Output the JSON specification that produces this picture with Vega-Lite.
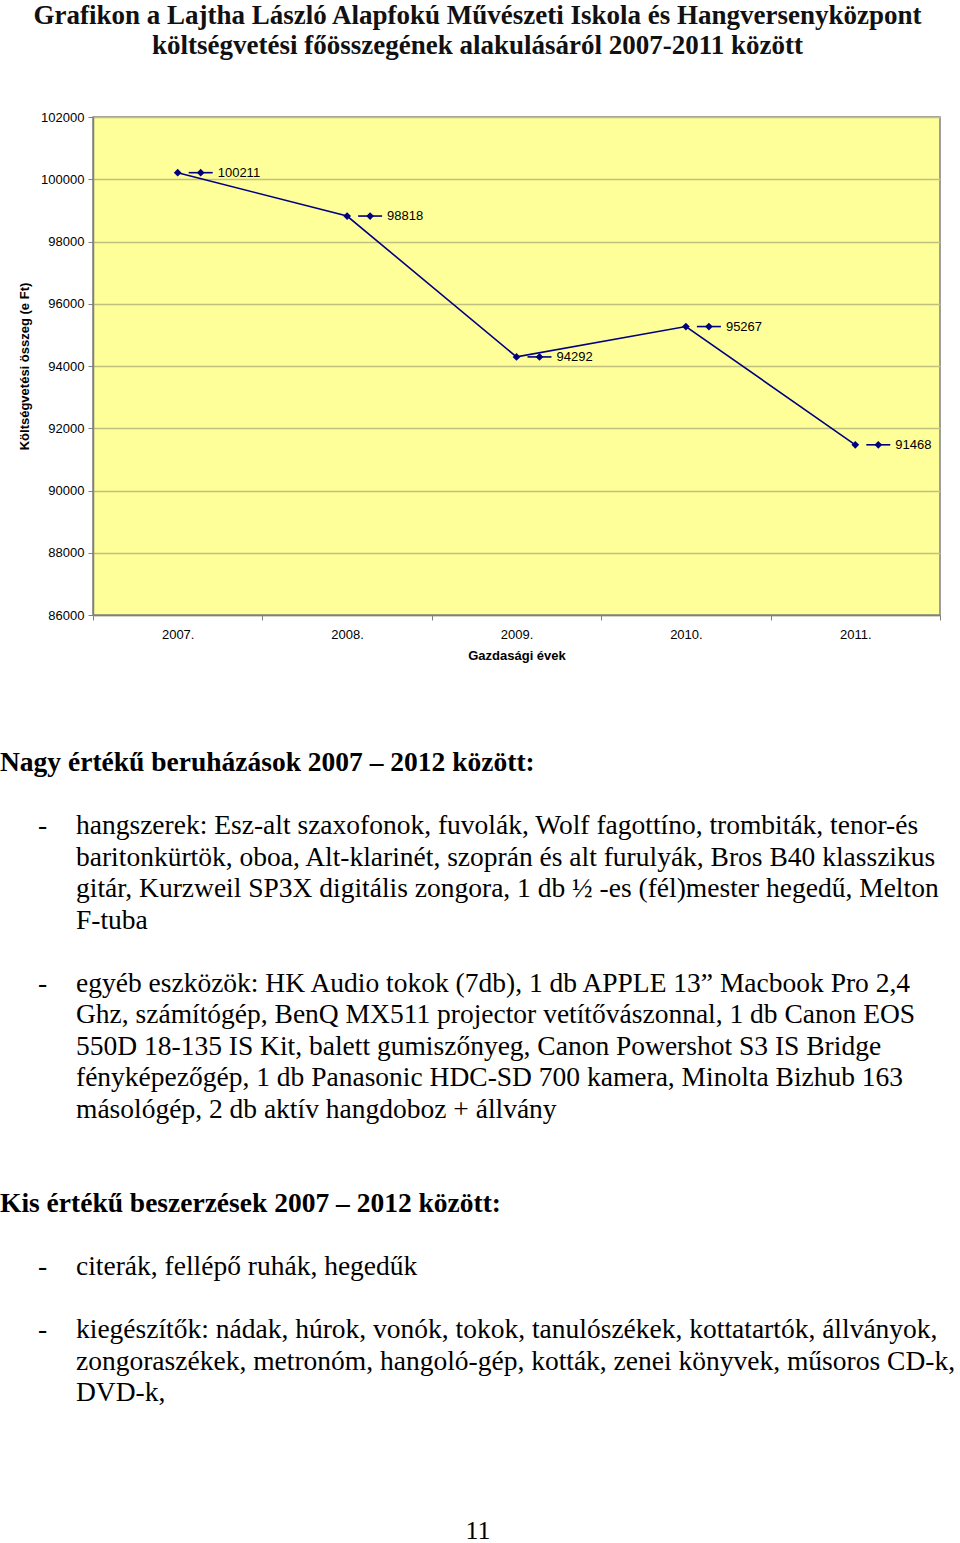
{
  "$schema": "https://vega.github.io/schema/vega-lite/v6.json",
  "padding": {"left": 0, "top": 2, "right": 0, "bottom": 0},
  "background": "white",
  "bounds": "flush",
  "spacing": 100,
  "title": {
    "text": ["Grafikon a Lajtha László Alapfokú Művészeti Iskola és Hangversenyközpont", "költségvetési főösszegének alakulásáról 2007-2011 között"],
    "font": "Liberation Serif",
    "fontSize": 27,
    "fontWeight": "bold",
    "lineHeight": 30,
    "color": "#111111",
    "anchor": "middle",
    "offset": 50
  },
  "datasets": {
    "koltseg": [
      {"ev": "2007.", "osszeg": 100211},
      {"ev": "2008.", "osszeg": 98818},
      {"ev": "2009.", "osszeg": 94292},
      {"ev": "2010.", "osszeg": 95267},
      {"ev": "2011.", "osszeg": 91468}
    ],
    "szoveg": [
      {"line": 0, "col": "head", "kind": "heading", "text": "Nagy értékű beruházások 2007 – 2012 között:"},
      {"line": 2, "col": "dash", "kind": "body", "text": "-"},
      {"line": 2, "col": "body", "kind": "body", "text": "hangszerek: Esz-alt szaxofonok, fuvolák, Wolf fagottíno, trombiták, tenor-és"},
      {"line": 3, "col": "body", "kind": "body", "text": "baritonkürtök, oboa, Alt-klarinét, szoprán és alt furulyák, Bros B40 klasszikus"},
      {"line": 4, "col": "body", "kind": "body", "text": "gitár, Kurzweil SP3X digitális zongora, 1 db ½ -es (fél)mester hegedű, Melton"},
      {"line": 5, "col": "body", "kind": "body", "text": "F-tuba"},
      {"line": 7, "col": "dash", "kind": "body", "text": "-"},
      {"line": 7, "col": "body", "kind": "body", "text": "egyéb eszközök: HK Audio tokok (7db), 1 db APPLE 13” Macbook Pro 2,4"},
      {"line": 8, "col": "body", "kind": "body", "text": "Ghz, számítógép, BenQ MX511 projector vetítővászonnal, 1 db Canon EOS"},
      {"line": 9, "col": "body", "kind": "body", "text": "550D 18-135 IS Kit, balett gumiszőnyeg, Canon Powershot S3 IS Bridge"},
      {"line": 10, "col": "body", "kind": "body", "text": "fényképezőgép, 1 db Panasonic HDC-SD 700 kamera, Minolta Bizhub 163"},
      {"line": 11, "col": "body", "kind": "body", "text": "másológép, 2 db aktív hangdoboz + állvány"},
      {"line": 14, "col": "head", "kind": "heading", "text": "Kis értékű beszerzések 2007 – 2012 között:"},
      {"line": 16, "col": "dash", "kind": "body", "text": "-"},
      {"line": 16, "col": "body", "kind": "body", "text": "citerák, fellépő ruhák, hegedűk"},
      {"line": 18, "col": "dash", "kind": "body", "text": "-"},
      {"line": 18, "col": "body", "kind": "body", "text": "kiegészítők: nádak, húrok, vonók, tokok, tanulószékek, kottatartók, állványok,"},
      {"line": 19, "col": "body", "kind": "body", "text": "zongoraszékek, metronóm, hangoló-gép, kották, zenei könyvek, műsoros CD-k,"},
      {"line": 20, "col": "body", "kind": "body", "text": "DVD-k,"},
      {"line": 24, "col": "page", "kind": "page", "text": "11"}
    ]
  },
  "vconcat": [
    {
      "width": 847,
      "height": 498,
      "view": {"fill": "#FFFF99", "stroke": "#808080", "strokeWidth": 1.5},
      "data": {"name": "koltseg"},
      "encoding": {
        "x": {
          "field": "ev",
          "type": "nominal",
          "sort": null,
          "scale": {"type": "band", "paddingInner": 0, "paddingOuter": 0},
          "axis": {
            "title": "Gazdasági évek",
            "titleFont": "Liberation Sans",
            "titleFontSize": 13,
            "titleFontWeight": "bold",
            "titleColor": "#000000",
            "titlePadding": 8,
            "labelFont": "Liberation Sans",
            "labelFontSize": 13,
            "labelColor": "#000000",
            "labelAngle": 0,
            "labelPadding": 8,
            "tickBand": "extent",
            "tickSize": 5,
            "tickColor": "#808080",
            "domainColor": "#808080",
            "domainWidth": 1.5,
            "grid": false
          }
        },
        "y": {
          "field": "osszeg",
          "type": "quantitative",
          "scale": {"domain": [86000, 102000], "nice": false, "zero": false},
          "axis": {
            "title": "Költségvetési összeg (e Ft)",
            "titleFont": "Liberation Sans",
            "titleFontSize": 13,
            "titleFontWeight": "bold",
            "titleColor": "#000000",
            "titlePadding": 9,
            "labelFont": "Liberation Sans",
            "labelFontSize": 13,
            "labelColor": "#000000",
            "labelPadding": 4,
            "format": "d",
            "values": [86000, 88000, 90000, 92000, 94000, 96000, 98000, 100000, 102000],
            "tickSize": 5,
            "tickColor": "#808080",
            "domainColor": "#808080",
            "domainWidth": 1.5,
            "grid": true,
            "gridColor": "#C0C080",
            "gridWidth": 1.5,
            "gridOpacity": 1
          }
        }
      },
      "layer": [
        {"mark": {"type": "line", "color": "#000080", "strokeWidth": 1.6}},
        {"mark": {"type": "point", "shape": "diamond", "filled": true, "size": 60, "color": "#000080", "opacity": 1}},
        {"mark": {"type": "tick", "orient": "horizontal", "size": 24, "thickness": 1.6, "color": "#000080", "xOffset": 23, "opacity": 1}},
        {"mark": {"type": "point", "shape": "diamond", "filled": true, "size": 60, "color": "#000080", "opacity": 1, "xOffset": 23}},
        {
          "mark": {"type": "text", "align": "left", "baseline": "middle", "xOffset": 40, "font": "Liberation Sans", "fontSize": 13, "color": "#000000"},
          "encoding": {"text": {"field": "osszeg", "type": "quantitative", "format": "d"}}
        }
      ]
    },
    {
      "width": 770,
      "height": 820,
      "view": {"stroke": null},
      "data": {"name": "szoveg"},
      "encoding": {
        "y": {
          "field": "line",
          "type": "quantitative",
          "scale": {"domain": [0, 20], "range": [48, 678], "zero": false, "nice": false},
          "axis": null
        }
      },
      "layer": [
        {
          "transform": [{"filter": "datum.kind === 'heading'"}],
          "mark": {"type": "text", "align": "left", "baseline": "middle", "font": "Liberation Serif", "fontSize": 27.5, "fontWeight": "bold", "color": "#000000"},
          "encoding": {
            "x": {"field": "col", "type": "nominal", "scale": {"type": "point", "domain": ["head", "dash", "body"], "range": [-93, -17], "padding": 0}, "axis": null},
            "text": {"field": "text", "type": "nominal"}
          }
        },
        {
          "transform": [{"filter": "datum.kind === 'body'"}],
          "mark": {"type": "text", "align": "left", "baseline": "middle", "font": "Liberation Serif", "fontSize": 27.5, "color": "#000000"},
          "encoding": {
            "x": {"field": "col", "type": "nominal", "scale": {"type": "point", "domain": ["head", "dash", "body"], "range": [-93, -17], "padding": 0}, "axis": null},
            "text": {"field": "text", "type": "nominal"}
          }
        },
        {
          "transform": [{"filter": "datum.kind === 'page'"}],
          "mark": {"type": "text", "align": "center", "baseline": "middle", "font": "Liberation Serif", "fontSize": 26, "color": "#000000", "dy": 12},
          "encoding": {
            "text": {"field": "text", "type": "nominal"}
          }
        }
      ]
    }
  ]
}
